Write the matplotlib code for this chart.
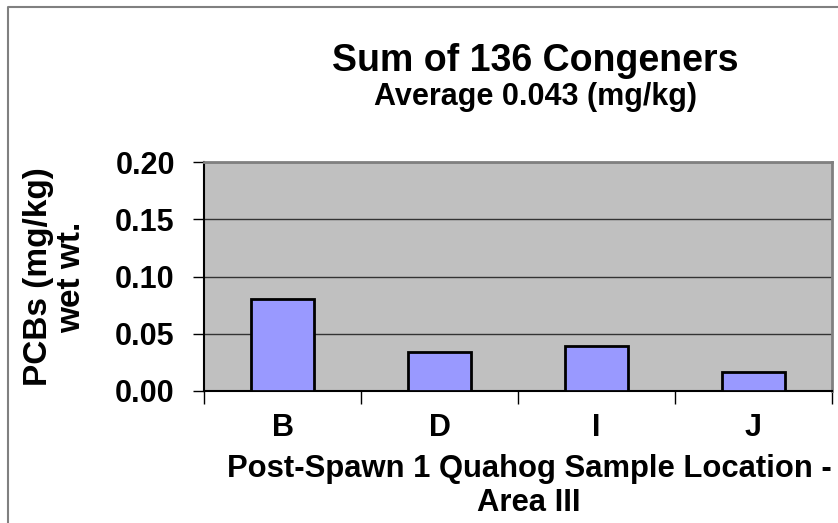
import matplotlib
matplotlib.use("Agg")
import matplotlib.pyplot as plt
from matplotlib.lines import Line2D
from matplotlib.ticker import FormatStrFormatter

# data
locations = ["B", "D", "I", "J"]
pcb_values = [0.080, 0.034, 0.039, 0.017]
y_ticks = [0.00, 0.05, 0.10, 0.15, 0.20]

W, H = 838, 523
plt.rcParams['font.family'] = ['Liberation Sans', 'DejaVu Sans']
plt.rcParams['font.weight'] = 'bold'

fig = plt.figure(figsize=(W / 100, H / 100), dpi=100)
fig.patch.set_facecolor('white')

# outer chart frame (cut off at the right and bottom)
fig.add_artist(Line2D([8 / W, 8 / W, 1.0], [0.0, 1 - 7 / H, 1 - 7 / H],
                      transform=fig.transFigure, color='#808080', lw=1.5))

left, right, top, bottom = 204, 832, 162, 391
ax = fig.add_axes([left / W, 1 - bottom / H, (right - left) / W, (bottom - top) / H])
ax.set_facecolor('#C0C0C0')

x = list(range(len(locations)))
ax.bar(x, pcb_values, width=0.4, color='#9999FF', edgecolor='black', linewidth=2, zorder=3)

ax.set_xlim(-0.5, len(locations) - 0.5)
ax.set_ylim(0, 0.2)
ax.set_yticks(y_ticks)
ax.yaxis.set_major_formatter(FormatStrFormatter('%.2f'))
ax.grid(axis='y', color='#333333', lw=1, zorder=1)
ax.set_axisbelow(True)

ax.set_xticks(x)
ax.set_xticklabels(locations)
ax.set_xticks([i - 0.5 for i in range(len(locations) + 1)], minor=True)
ax.tick_params(axis='x', which='major', length=0, pad=16, labelsize=22)
ax.tick_params(axis='x', which='minor', length=9, width=1, color='black', direction='out')
ax.tick_params(axis='y', length=8, width=1, direction='out', pad=13, labelsize=22)

for s in ['top', 'right']:
    ax.spines[s].set_color('#808080')
    ax.spines[s].set_linewidth(2)
for s in ['left', 'bottom']:
    ax.spines[s].set_color('black')
    ax.spines[s].set_linewidth(1.5)

cx = 535 / W
fig.text(cx, 1 - 61 / H, 'Sum of 136 Congeners', ha='center', va='center',
         fontsize=27, fontweight='bold')
fig.text(cx, 1 - 97 / H, 'Average 0.043 (mg/kg)', ha='center', va='center',
         fontsize=22, fontweight='bold')

fig.text(529 / W, 1 - 486 / H, 'Post-Spawn 1 Quahog Sample Location -\nArea III',
         ha='center', va='center', fontsize=22.3, fontweight='bold', linespacing=1.18)
fig.text(55 / W, 1 - 277 / H, 'PCBs (mg/kg)\nwet wt.', rotation=90,
         ha='center', va='center', fontsize=24, fontweight='bold', linespacing=1.08)

fig.savefig('out.png', dpi=100)
